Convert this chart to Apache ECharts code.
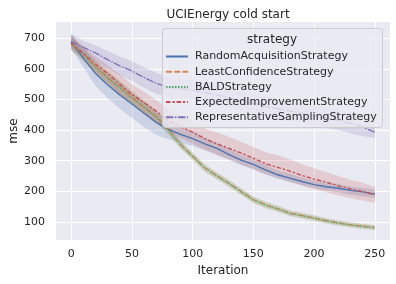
<!DOCTYPE html>
<html>
<head>
<meta charset="utf-8">
<script src="https://cdn.jsdelivr.net/npm/echarts@6/dist/echarts.min.js"></script>
<style>html,body{margin:0;padding:0;background:#fff}#c{width:396px;height:284px}</style>
</head>
<body>
<div id="c"></div>
<script>
const iterations = [0,10,20,30,40,50,60,70,80,90,100,110,120,130,140,150,160,170,180,190,200,210,220,230,240,250];
const xTicks = [0,50,100,150,200,250];
const yTicks = [100,200,300,400,500,600,700];
const seriesNames = ['RandomAcquisitionStrategy','LeastConfidenceStrategy','BALDStrategy','ExpectedImprovementStrategy','RepresentativeSamplingStrategy'];

const randomMean  = [687,635,585,548,515,485,455,425,402,386,372,355,340,320,302,288,270,254,243,232,222,215,210,203,198,191];
const randomLow   = [665,605,545,505,470,440,410,385,370,358,348,335,320,302,285,272,256,240,230,220,210,203,197,190,184,178];
const randomHigh  = [715,660,615,580,550,520,490,460,432,412,395,375,358,338,318,305,286,268,258,245,235,228,223,216,211,204];

const leastMean   = [682,648,607,572,540,507,476,445,401,354,315,277,251,226,199,173,156,143,129,121,113,104,97,91,86,82];
const leastLow    = [662,627,587,552,519,487,456,426,387,341,303,265,240,215,189,163,146,134,120,112,104,96,89,83,78,74];
const leastHigh   = [706,669,628,593,561,528,496,463,416,366,327,288,262,237,210,183,166,153,138,130,122,112,105,99,94,90];

const baldMean    = [680,646,605,570,539,505,475,443,400,352,314,276,250,225,198,172,155,142,128,120,112,103,96,90,85,81];
const baldLow     = [660,625,585,550,518,485,455,425,385,340,302,264,239,214,188,162,145,133,119,111,103,95,88,82,77,73];
const baldHigh    = [705,668,628,592,560,527,495,462,415,365,326,287,261,236,209,182,165,152,137,129,121,111,104,98,93,89];

const eiMean      = [685,650,615,585,550,516,490,462,432,412,393,372,355,340,325,308,290,278,266,252,240,230,218,208,199,189];
const eiLow       = [665,630,590,555,518,485,455,425,395,375,355,335,318,305,288,272,255,245,232,218,207,197,186,178,170,163];
const eiHigh      = [712,672,640,612,582,550,525,498,468,448,430,405,392,378,362,345,328,318,305,288,275,263,250,238,228,214];

const repMean     = [690,670,652,630,610,593,572,553,540,536,530,522,515,505,495,487,478,470,462,455,447,440,432,422,410,393];
const repLow      = [670,648,625,600,578,560,538,518,510,505,498,490,482,472,462,455,446,438,430,423,415,408,400,390,380,375];
const repHigh     = [715,692,676,658,640,625,605,588,572,568,562,555,548,538,528,520,511,503,495,488,480,472,465,455,442,428];

const colors = ['#4c72b0','#dd8452','#55a868','#c44e52','#8172b3'];
const dashes = ['solid',[6,2.25],[1.5,1.5],[4.5,1.9,2.25,1.9],[7.5,1.5,1.5,1.5]];
const means = [randomMean,leastMean,baldMean,eiMean,repMean];
const lows = [randomLow,leastLow,baldLow,eiLow,repLow];
const highs = [randomHigh,leastHigh,baldHigh,eiHigh,repHigh];

function hexA(h,a){const r=parseInt(h.slice(1,3),16),g=parseInt(h.slice(3,5),16),b=parseInt(h.slice(5,7),16);return `rgba(${r},${g},${b},${a})`;}

const series = [];
for (let i=0;i<5;i++){
  const lo = lows[i], hi = highs[i], fill = hexA(colors[i],0.2);
  series.push({
    name: 'band_'+i, type:'custom', silent:true, z:1,
    data: iterations.map((x,k)=>[x,lo[k],hi[k]]),
    encode:{x:0, y:[1,2]},
    renderItem: function(params, api){
      if (params.dataIndex !== 0) return null;
      const pts = [];
      for (let k=0;k<iterations.length;k++) pts.push(api.coord([iterations[k], hi[k]]));
      for (let k=iterations.length-1;k>=0;k--) pts.push(api.coord([iterations[k], lo[k]]));
      return {type:'polygon', shape:{points:pts}, style:{fill:fill, stroke:'none'}};
    }
  });
}
for (let i=0;i<5;i++){
  series.push({
    name: seriesNames[i], type:'line', symbol:'none', z:2,
    data: iterations.map((x,k)=>[x,means[i][k]]),
    lineStyle:{color:colors[i], width:1.4, type:dashes[i]},
    itemStyle:{color:colors[i]}
  });
}

const textColor = '#262626';
const chart = echarts.init(document.getElementById('c'), null, {renderer:'canvas'});
chart.setOption({
  animation:false,
  backgroundColor:'#ffffff',
  title:{text:'UCIEnergy cold start', left:223, top:4, textAlign:'center',
    textStyle:{fontFamily:'DejaVu Sans', fontSize:12, fontWeight:'normal', color:textColor}},
  grid:{left:56, right:6, top:22, bottom:44, show:true, backgroundColor:'#eaeaf2', borderWidth:0,
    containLabel:false, outerBoundsMode:'none'},
  xAxis:{type:'value', min:-12.5, max:262.5,
    name:'Iteration', nameLocation:'middle', nameGap:25, nameMoveOverlap:false,
    nameTextStyle:{fontFamily:'DejaVu Sans', fontSize:12, color:textColor},
    axisLine:{show:false},
    axisTick:{show:false, customValues:xTicks},
    axisLabel:{customValues:xTicks, fontFamily:'DejaVu Sans', fontSize:11, color:textColor, margin:9},
    splitLine:{show:true, lineStyle:{color:'#ffffff', width:1}}},
  yAxis:{type:'value', min:41, max:753,
    name:'mse', nameLocation:'middle', nameGap:36, nameRotate:90, nameMoveOverlap:false,
    nameTextStyle:{fontFamily:'DejaVu Sans', fontSize:12, color:textColor},
    axisLine:{show:false},
    axisTick:{show:false, customValues:yTicks},
    axisLabel:{customValues:yTicks, fontFamily:'DejaVu Sans', fontSize:11, color:textColor, margin:11},
    splitLine:{show:true, lineStyle:{color:'#ffffff', width:1}}},
  legend:{data:seriesNames, orient:'vertical', left:165, top:50, itemWidth:22, itemHeight:10, itemGap:2.2,
    padding:0,
    itemStyle:{opacity:0, borderWidth:0},
    textStyle:{fontFamily:'DejaVu Sans', fontSize:11, lineHeight:13, color:textColor, padding:[0,0,0,2]}},
  graphic:[
    {type:'rect', z:3, shape:{x:162.5, y:28.5, width:220, height:99, r:3},
     style:{fill:'rgba(234,234,242,0.8)', stroke:'#cccccc', lineWidth:1}},
    {type:'text', z:5, style:{text:'strategy', x:272, y:40, align:'center', verticalAlign:'middle',
      font:'12px "DejaVu Sans"', fill:textColor}}
  ],
  series: series
});
</script>
</body>
</html>
